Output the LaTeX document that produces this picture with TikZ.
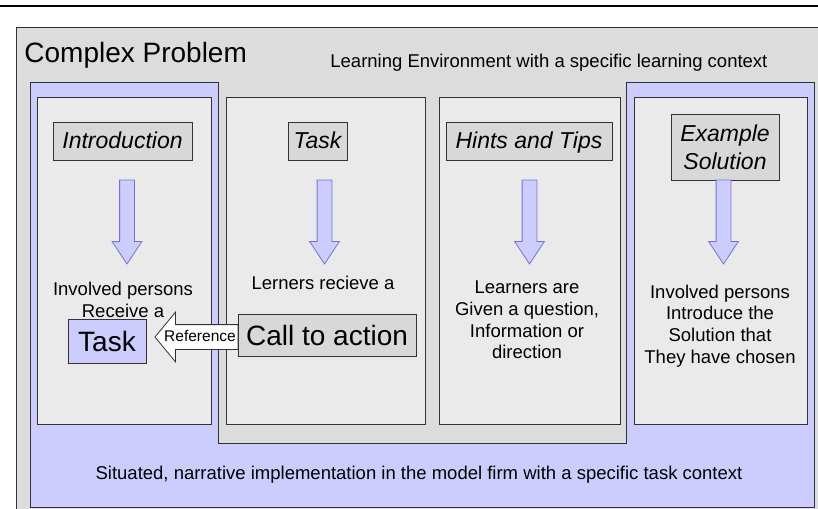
\documentclass[tikz,border=0pt]{standalone}
\usepackage{fontspec}
\setmainfont{Liberation Sans}
\usetikzlibrary{shapes.arrows}
\definecolor{bggrey}{HTML}{DCDCDC}
\definecolor{panelgrey}{HTML}{EAEAEA}
\definecolor{titlegrey}{HTML}{D8D8D8}
\definecolor{lilac}{HTML}{CCCCFF}
\definecolor{arrowedge}{HTML}{7373D6}
\definecolor{edge}{HTML}{333333}

\begin{document}
\begin{tikzpicture}[x=1pt, y=-1pt, line width=0.8pt,
  panel/.style = {draw=edge, fill=panelgrey, inner sep=0, minimum height=327pt},
  titlebox/.style = {draw=edge, fill=titlegrey, inner sep=0, minimum height=38pt, font=\itshape\fontsize{23}{28}\selectfont},
  oneline/.style = {text height=18.5pt, text depth=4pt},
  body/.style = {align=center, inner sep=0, font=\fontsize{18.5}{21.7}\selectfont},
  bigbox/.style = {draw=edge, inner sep=0, font=\fontsize{28}{30}\selectfont},
  downarrow/.style = {single arrow, draw=arrowedge, fill=lilac, shape border rotate=270, inner sep=7pt, outer sep=0, minimum height=84pt, single arrow head extend=7.5pt, single arrow tip angle=67, anchor=tail},
  refarrow/.style = {single arrow, draw=edge, fill=white, shape border rotate=180, inner sep=12pt, outer sep=0, minimum height=83pt, single arrow head extend=12.5pt, single arrow tip angle=101, anchor=tail}]
      \clip (0,0) rectangle (818,508);
      \fill[white] (0,0) rectangle (818,508);
      \draw[line width=2.5pt] (0,6) -- (818,6);
      % learning environment
      \draw[draw=edge, fill=bggrey] (16,27) rectangle (840,530);
      \node[anchor=base west, inner sep=0, font=\fontsize{28}{30}\selectfont] (complex) at (24,63) {Complex Problem};
      \node[anchor=base west, inner sep=0, font=\fontsize{18.5}{21.7}\selectfont] (environment) at (330,68) {Learning Environment with a specific learning context};
      % model firm
      \draw[draw=edge, fill=lilac] (30,82) -- (218,82) -- (218,443) -- (626,443) -- (626,82) -- (814,82) -- (814,507) -- (30,507) -- cycle;
      \node[body] (firm) at (419,475) {Situated, narrative implementation in the model firm with a specific task context};
      % panels
      \node[panel, minimum width=174pt] (intropanel) at (124,260.5) {};
      \node[panel, minimum width=199pt] (taskpanel) at (325.5,260.5) {};
      \node[panel, minimum width=181pt] (hintspanel) at (529.5,260.5) {};
      \node[panel, minimum width=173pt] (examplepanel) at (720.5,260.5) {};
      % titles
      \node[titlebox, oneline, minimum width=139pt] (intro) at (122.5,141) {Introduction};
      \node[titlebox, oneline, minimum width=59pt] (task) at (317.5,141) {Task};
      \node[titlebox, oneline, minimum width=166pt] (hints) at (529,141) {Hints and Tips};
      \node[titlebox, minimum width=108pt, minimum height=66pt, align=center] (example) at (725,147) {Example\\Solution};
      % arrows
      \node[downarrow] (introarrow) at (127,180) {};
      \node[downarrow] (taskarrow) at (324.5,180) {};
      \node[downarrow] (hintsarrow) at (529.5,180) {};
      \node[downarrow] (examplearrow) at (723.5,180) {};
      % texts
      \node[body] (introtext) at (123,300) {Involved persons\\Receive a};
      \node[body] (tasktext) at (323,283) {Lerners recieve a};
      \node[body] (hintstext) at (527,320) {Learners are\\Given a question,\\Information or\\direction};
      \node[body] (exampletext) at (720,326) {Involved persons\\Introduce the\\Solution that\\They have chosen};
      % reference
      \node[refarrow] (ref) at (238,337) {};
      \node[inner sep=0, font=\fontsize{15.5}{17}\selectfont] (reftext) at (200,336) {Reference};
      \node[bigbox, fill=lilac, minimum width=78pt, minimum height=44pt] (target) at (107,341) {Task};
      \node[bigbox, fill=titlegrey, minimum width=178pt, minimum height=42pt] (call) at (327,335) {Call to action};
\end{tikzpicture}
\end{document}
